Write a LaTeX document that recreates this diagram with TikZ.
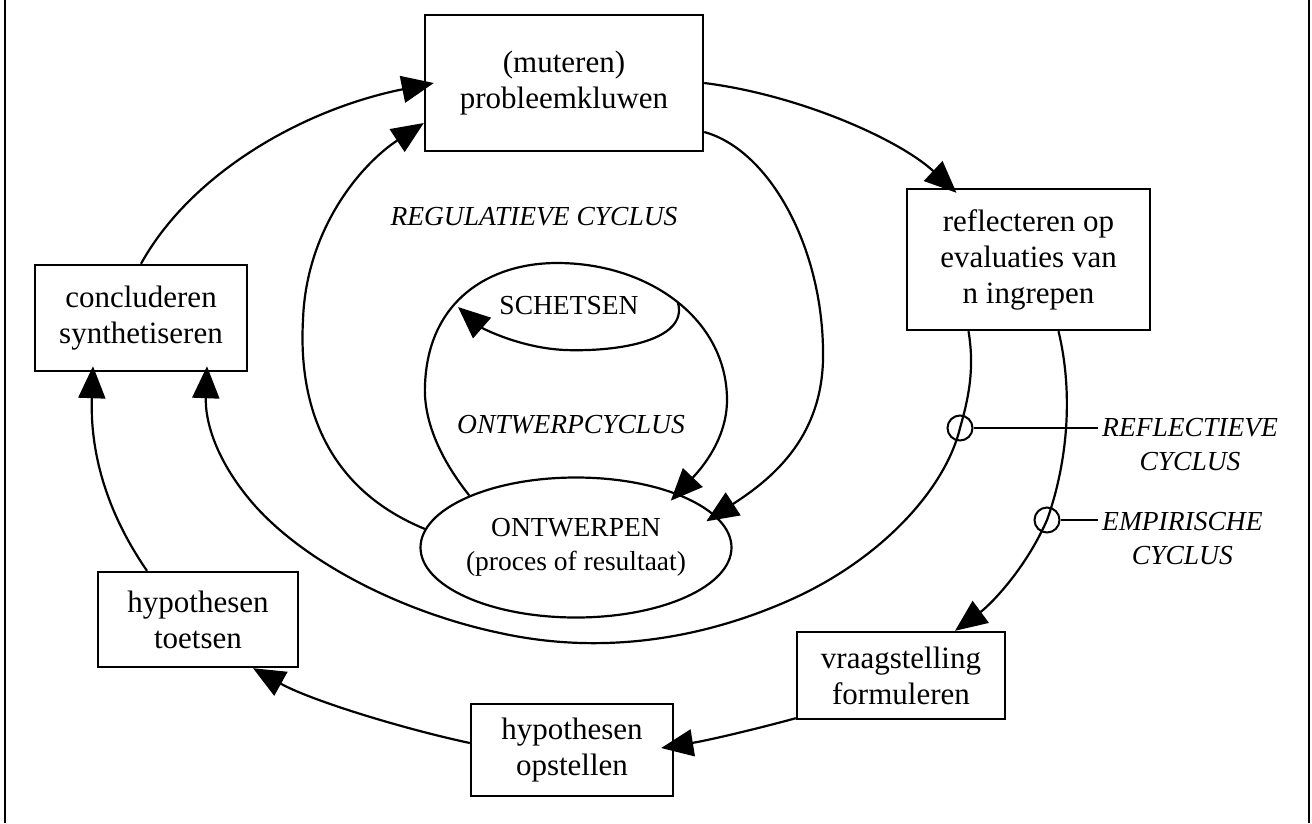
\documentclass[tikz,border=0pt]{standalone}
\usepackage{fontspec}
\setmainfont{Liberation Serif}
\usetikzlibrary{arrows.meta,shapes.geometric}

\begin{document}
\begin{tikzpicture}[x=1pt,y=-1pt,
  box/.style={draw, line width=2.4pt, rectangle, inner sep=0pt, align=center,
              font=\fontsize{31}{36}\selectfont},
  oval/.style={draw, line width=2.2pt, ellipse, inner sep=0pt, align=center,
               font=\fontsize{27.5}{34}\selectfont},
  tag/.style={inner sep=0pt, align=center, font=\fontsize{27.5}{34}\selectfont\itshape},
  caps/.style={inner sep=0pt, font=\fontsize{27.5}{34}\selectfont},
  flow/.style={line width=2.2pt, -{Triangle[length=32pt,width=27pt]}},
  ring/.style={circle, draw, line width=2pt, minimum size=25pt, inner sep=0pt},
  leader/.style={line width=2pt}]

\useasboundingbox (0,0) rectangle (1312,823);

% side rules of the frame
\coordinate (fl1) at (5,0);    \coordinate (fl2) at (5,823);
\coordinate (fr1) at (1309,0); \coordinate (fr2) at (1309,823);
\draw[line width=2.5pt] (fl1) -- (fl2);
\draw[line width=2.5pt] (fr1) -- (fr2);

% boxes
\node[box, minimum width=278pt, minimum height=136pt] (pk) at (564,83) {(muteren)\\probleemkluwen};
\node[box, minimum width=243pt, minimum height=141pt] (refl) at (1028.5,259.5) {reflecteren op\\evaluaties van\\n ingrepen};
\node[box, minimum width=212pt, minimum height=106pt] (concl) at (141,318) {concluderen\\synthetiseren};
\node[box, minimum width=200pt, minimum height=95pt] (htoets) at (198,619.5) {hypothesen\\toetsen};
\node[box, minimum width=202pt, minimum height=92pt] (hopst) at (572,750) {hypothesen\\opstellen};
\node[box, minimum width=208pt, minimum height=87pt] (vraag) at (901,675.5) {vraagstelling\\formuleren};
\node[oval, minimum width=307pt, minimum height=140pt] (ontw) at (576,547.5) {ONTWERPEN\\(proces of resultaat)};

% inner labels
\node[caps] (schets) at (569,306) {SCHETSEN};
\node[tag] (regc) at (534,217) {REGULATIEVE CYCLUS};
\node[tag] (ontc) at (571,425) {ONTWERPCYCLUS};

% markers on the two outer cycles with their captions
\node[ring] (c1) at (960,428) {};
\node[ring] (c2) at (1047,520) {};
\node[tag, inner sep=4pt, anchor=west] (rl) at (1098,445) {REFLECTIEVE\\CYCLUS};
\node[tag, inner sep=4pt, anchor=west] (el) at (1098,539) {EMPIRISCHE\\CYCLUS};
\draw[leader] (c1.east) -- (c1.east -| rl.west);
\draw[leader] (c2.east) -- (c2.east -| el.west);

% empirical cycle (outer ring)
\draw[flow] (concl.north) .. controls (190,175) and (300,110) .. ([xshift=10pt]pk.west);
\draw[flow] (pk.east) .. controls (800,95) and (900,140) .. ([xshift=-72pt,yshift=-5pt]refl.north);
\draw[flow] ([xshift=30pt]refl.south) .. controls (1075,400) and (1065,470) .. (c2.center)
            .. controls (1025,570) and (990,605) .. ([xshift=54pt]vraag.north);
\draw[flow] ([yshift=2pt]vraag.south west) .. controls (760,728) and (710,740) .. ([xshift=-13pt,yshift=2pt]hopst.east);
\draw[flow] ([yshift=7pt]hopst.west) .. controls (400,728) and (310,700) .. ([xshift=55pt]htoets.south);
\draw[flow] ([xshift=-51pt]htoets.north) .. controls (105,510) and (90,450) .. ([xshift=-48pt,yshift=6pt]concl.south);

% reflective cycle
\draw[flow] ([xshift=-60pt]refl.south) .. controls (975,370) and (968,400) .. (c1.center)
            .. controls (945,490) and (880,560) .. (790,600)
            .. controls (700,640) and (600,655) .. (500,633)
            .. controls (400,612) and (300,560) .. (250,500)
            .. controls (215,458) and (205,420) .. ([xshift=66pt,yshift=6pt]concl.south);

% regulative cycle
\draw[flow] (ontw.173) .. controls (330,490) and (298,410) .. (303,320)
            .. controls (306,230) and (360,165) .. ([yshift=-40pt]pk.west);
\draw[flow, shorten >=-11pt] ([yshift=-49pt]pk.east) .. controls (770,150) and (825,250) .. (823,360)
            .. controls (821,440) and (770,480) .. (ontw.13);

% design cycle
\draw[flow, shorten >=-10pt] (ontw.154) .. controls (445,465) and (423,425) .. (425,385)
            .. controls (428,300) and (490,263) .. (557,263)
            .. controls (650,263) and (727,320) .. (727,400)
            .. controls (727,440) and (700,470) .. (ontw.28);
\coordinate (sR) at (678,303);
\coordinate (sL) at (458,307);
\draw[flow] (sR) .. controls (688,340) and (620,352) .. (565,350)
            .. controls (520,348) and (482,328) .. (sL);

\end{tikzpicture}
\end{document}
